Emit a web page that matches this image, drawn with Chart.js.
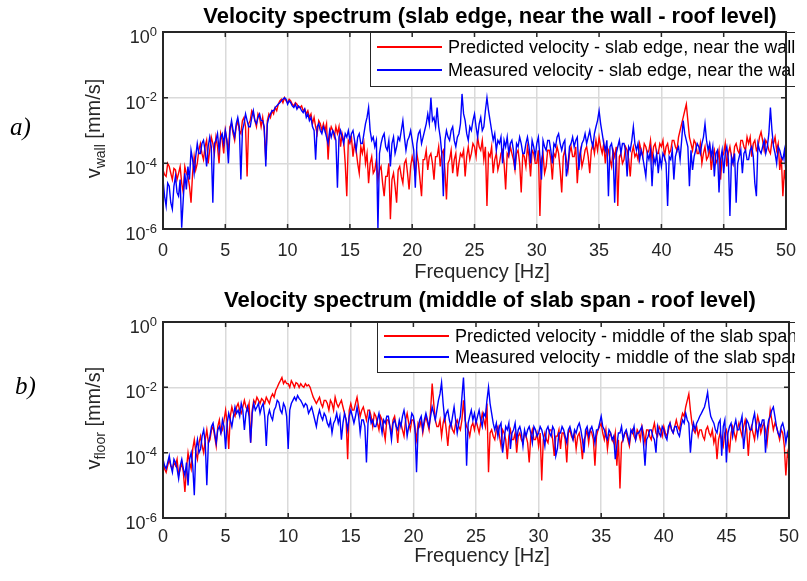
<!DOCTYPE html>
<html>
<head>
<meta charset="utf-8">
<script src="https://cdn.jsdelivr.net/npm/chart.js@4.4.1/dist/chart.umd.min.js"></script>
<style>
  html, body { margin: 0; padding: 0; background: #fff; }
  #wrap { position: relative; width: 807px; height: 581px; }
  canvas { position: absolute; left: 0; }
</style>
</head>
<body>
<div id="wrap">
  <canvas id="wallChart" width="807" height="290" style="top:0"></canvas>
  <canvas id="floorChart" width="807" height="291" style="top:290px"></canvas>
</div>
<script>
// spectra sampled every 0.125 Hz from 0 to 50 Hz (one line = 1 Hz), values in mm/s
const freqStep = 0.125;
const freqMax = 50;
const xTicks = [0, 5, 10, 15, 20, 25, 30, 35, 40, 45, 50];
const yTicks = [1e-6, 1e-4, 1e-2, 1];

const wallPredicted = [
  6.3e-5,4.5e-5,4e-5,1e-4,8e-5,5e-5,3.2e-5,7e-5,
  6.3e-5,3.2e-5,5e-5,8e-5,2.5e-5,1.3e-5,8e-5,5e-5,
  4e-5,2e-5,6.3e-6,5e-5,1.6e-4,6.3e-5,1e-4,2.5e-4,
  4e-4,2e-4,1.3e-4,3.2e-4,5e-4,1e-4,2.5e-4,6.3e-4,
  4e-4,2e-4,6.3e-4,3.2e-4,1e-4,8e-4,5e-4,2e-4,
  1e-3,5e-4,2.5e-4,1.3e-3,1.6e-3,8e-4,5e-4,1.3e-3,
  2e-3,1e-3,8e-4,2e-3,2.5e-3,1.3e-3,4e-5,1.6e-3,
  2e-3,4e-3,3.2e-3,2e-3,1.3e-3,3.2e-3,2.5e-3,1.3e-3,
  2.5e-3,1e-3,1.3e-4,2e-3,3.2e-3,2.5e-3,4e-3,3.2e-3,
  5e-3,4e-3,6.3e-3,8e-3,9e-3,7e-3,1e-2,8e-3,
  7e-3,9e-3,8e-3,6.3e-3,5.6e-3,7e-3,6.3e-3,5e-3,
  5e-3,5.6e-3,4e-3,4.5e-3,3.2e-3,4e-3,2.5e-3,3.2e-3,
  1.6e-3,2.5e-3,1.3e-3,8e-4,2e-3,1.6e-3,1e-3,1.6e-3,
  1e-3,1.6e-3,1.3e-4,8e-4,1.3e-3,1e-3,6.3e-4,1.3e-3,
  8e-4,1.3e-3,3.2e-4,8e-4,5e-4,1e-4,1e-5,5e-4,
  4e-4,6.3e-4,1.6e-4,4e-4,2.5e-4,1e-4,5e-5,3.2e-4,
  2e-4,4e-4,1e-4,2e-4,2.5e-5,1e-4,1.6e-4,5e-5,
  6.3e-5,1.3e-4,3.2e-5,6.3e-5,8e-5,2.5e-5,1e-5,4e-5,
  4e-5,1e-4,2e-6,3.2e-5,5e-5,2e-5,6.3e-6,6.3e-5,
  8e-5,4e-5,2.5e-5,1e-4,1.3e-4,5e-5,1.6e-5,8e-5,
  1.6e-4,1e-4,4e-5,2e-4,1e-4,3.2e-5,1e-5,1.3e-4,
  1.3e-4,2.5e-4,6.3e-5,1.6e-4,2e-4,1e-4,3.2e-5,1.6e-4,
  1.6e-4,3.2e-4,8e-5,2e-4,2.5e-4,6.3e-5,8e-6,1e-4,
  1.3e-4,2.5e-4,5e-5,1.3e-4,2e-4,4e-5,1e-4,2e-4,
  1.6e-4,2.5e-4,4e-5,1.6e-4,3.2e-4,1.3e-4,2e-4,4e-4,
  3.2e-4,1.6e-4,6.3e-4,3.2e-4,2.5e-4,5e-4,1.3e-4,3.2e-4,
  5e-6,2e-4,1.6e-4,3.2e-4,5e-5,1.3e-4,2e-4,6.3e-5,
  1e-4,2e-4,2.5e-4,1e-4,1.6e-5,2e-4,1.6e-4,3.2e-4,
  2e-4,1.3e-4,6.3e-5,2e-4,2.5e-4,1e-4,1.3e-5,2e-4,
  1.6e-4,8e-5,3.2e-4,1.6e-4,4e-5,2.5e-4,2e-4,1e-4,
  1e-4,2.5e-4,2.5e-6,1.3e-4,2e-4,5e-5,8e-5,2.5e-4,
  2.5e-4,1.3e-4,3.2e-5,2e-4,1.6e-4,3.2e-4,2e-4,6.3e-5,
  1.3e-5,1.6e-4,2.5e-4,1.3e-4,6.3e-5,2e-4,3.2e-4,1.6e-4,
  1.6e-4,3.2e-4,2.5e-5,1.3e-4,2.5e-4,8e-5,1.3e-4,2.5e-4,
  3.2e-4,1.6e-4,5e-5,2.5e-4,4e-4,2e-4,5e-4,2.5e-4,
  6.3e-4,3.2e-4,2e-4,4e-4,1e-4,3.2e-4,2.5e-4,1.3e-4,
  8e-5,2.5e-4,1.6e-4,3.2e-4,5e-6,1.6e-4,2e-4,1e-4,
  1.3e-4,3.2e-4,2.5e-4,1.3e-4,4e-5,2e-4,3.2e-4,1.6e-4,
  2e-4,1.3e-4,4e-4,2.5e-4,1.6e-4,4e-4,3.2e-4,2e-4,
  2.5e-4,5e-4,1.3e-4,3.2e-4,4e-4,2e-4,2e-4,4e-4,
  3.2e-4,5e-4,1.6e-4,3.2e-4,4e-4,2e-4,2.5e-4,5e-4,
  5e-4,3.2e-4,2.5e-4,6.3e-4,1e-3,1.6e-3,2.5e-3,4e-3,
  6.3e-3,2e-3,6.3e-4,4e-4,2.5e-4,5e-4,4e-4,2e-4,
  2e-4,4e-4,1e-4,2e-4,3.2e-4,1.3e-4,1.6e-4,3.2e-4,
  6.3e-5,1.6e-4,2.5e-4,1e-4,1.3e-4,2.5e-4,3.2e-5,1.6e-4,
  2e-4,4e-4,8e-5,2e-4,3.2e-4,1.6e-4,1e-4,3.2e-4,
  4e-4,2.5e-4,2e-4,5e-4,5e-4,3.2e-4,2.5e-4,6.3e-4,
  4e-4,6.3e-4,1.6e-4,4e-4,5e-4,2.5e-4,3.2e-4,6.3e-4,
  9e-4,5e-4,2.5e-4,5e-4,4e-4,2.5e-4,2e-4,5e-4,
  4e-4,6.3e-4,2.5e-4,4e-4,6.3e-5,1.6e-4,1e-5,6.3e-5,
  2.5e-5
];

const wallMeasured = [
  3.2e-5,1e-5,5e-6,2.5e-5,2e-5,6.3e-6,4e-6,2e-5,
  4e-5,1.3e-5,1e-5,3.2e-5,1.1e-6,8e-6,5e-5,1.6e-5,
  8e-5,3.2e-5,2.5e-4,1.3e-4,5e-5,1.6e-4,4e-4,2e-4,
  2e-4,4e-4,5e-4,2.5e-4,8e-5,3.2e-4,6.3e-4,3.2e-4,
  6.3e-6,4e-4,5e-4,8e-4,2.5e-4,6.3e-4,8e-4,4e-4,
  1e-3,5e-4,1e-4,1e-3,2e-3,1e-3,6.3e-4,1.6e-3,
  2.5e-3,1.3e-3,3.2e-5,1e-3,1.6e-3,3.2e-3,2e-3,1.3e-3,
  1.3e-3,2.5e-3,4e-3,2e-3,1.6e-3,2.5e-3,3.2e-3,2e-3,
  2e-3,1.3e-3,8e-5,1.6e-3,2.5e-3,3.2e-3,4e-3,4e-3,
  5e-3,5.6e-3,6.3e-3,7e-3,8e-3,9e-3,1e-2,9e-3,
  6.3e-3,8e-3,7e-3,5.6e-3,5e-3,6.3e-3,4.5e-3,5.6e-3,
  5e-3,4e-3,3.5e-3,4.5e-3,2.5e-3,3.2e-3,2e-3,2.5e-3,
  1.3e-3,1e-3,1.3e-4,1.3e-3,1.6e-3,1e-3,8e-4,1.3e-3,
  1e-3,6.3e-4,4e-4,1e-3,6.3e-4,1e-3,8e-4,5e-4,
  1.8e-5,6.3e-4,1e-3,6.3e-4,4e-4,8e-4,6.3e-4,1e-3,
  5e-4,8e-4,1e-3,5e-4,2.5e-4,6.3e-4,8e-4,4e-4,
  4e-4,8e-4,1.6e-3,2.5e-3,5e-3,1e-3,5e-4,6.3e-4,
  3.2e-4,5e-4,1e-6,2e-4,4e-4,6.3e-4,8e-4,3.2e-4,
  2.5e-4,5e-4,8e-5,4e-4,6.3e-4,2e-4,3.2e-4,6.3e-4,
  5e-4,1e-3,2e-3,6.3e-4,2.5e-4,5e-4,6.3e-4,1e-3,
  5e-4,2.5e-4,1.8e-5,4e-4,8e-4,1e-3,4e-4,6.3e-4,
  1e-3,1.6e-3,3.2e-3,1.6e-3,1e-2,2e-3,2.5e-3,1.3e-3,
  5e-3,1.3e-3,6.3e-4,2e-4,1e-5,5e-4,1e-3,6.3e-4,
  5e-4,1e-3,1.3e-3,5e-4,3.2e-4,6.3e-4,8e-4,1.6e-3,
  1.3e-2,3.2e-3,2e-3,8e-4,5e-4,1.3e-3,1e-3,2e-3,
  3.2e-3,1.3e-3,6.3e-4,1.6e-3,2.5e-3,1e-3,1.3e-3,4e-3,
  1e-2,4e-3,2e-3,1e-3,5e-4,8e-4,2.5e-4,5e-4,
  4e-4,6.3e-4,1e-4,5e-4,3.2e-4,6.3e-4,2e-4,4e-4,
  5e-4,2.5e-4,6.3e-5,4e-4,3.2e-4,6.3e-4,4e-4,2e-4,
  2e-4,4e-4,6.3e-4,3.2e-4,1e-4,5e-4,3.2e-4,1.6e-4,
  4e-4,6.3e-4,1.6e-4,3.2e-5,5e-4,3.2e-4,2.5e-4,5e-4,
  5e-4,2.5e-4,1e-4,4e-4,3.2e-4,6.3e-4,8e-4,4e-4,
  2.5e-4,4e-4,5e-4,4e-5,8e-5,3.2e-4,4e-4,6.3e-4,
  3.2e-4,5e-4,6.3e-4,6.3e-5,2e-4,4e-4,5e-4,8e-4,
  4e-4,6.3e-4,1e-3,5e-4,3.2e-4,8e-4,1.3e-3,2e-3,
  4e-3,1.6e-3,8e-4,4e-4,2.5e-4,5e-4,1e-5,3.2e-4,
  4e-4,2e-4,6.3e-6,2e-4,3.2e-4,5e-4,2e-4,4e-4,
  4e-4,2.5e-4,4e-5,3.2e-4,2.5e-4,5e-4,1.3e-3,4e-4,
  2.5e-4,4e-4,1.3e-4,2.5e-4,1.6e-4,8e-5,4e-5,2e-4,
  1.3e-4,2.5e-4,2e-5,1.6e-4,1e-4,2e-4,5e-5,1.6e-4,
  8e-5,2e-4,1.6e-4,1e-4,5e-6,1.6e-4,1.3e-4,2.5e-4,
  3.2e-5,1.6e-4,2.5e-4,3.2e-4,1.3e-4,5e-4,2e-3,8e-4,
  5e-4,3.2e-4,2e-5,2.5e-4,6.3e-5,1.6e-4,2.5e-4,4e-4,
  3.2e-4,2e-4,4e-4,6.3e-4,1.6e-3,5e-4,2.5e-4,4e-4,
  1.6e-4,3.2e-4,4e-5,2e-4,2.5e-4,1.3e-5,1.3e-4,2.5e-4,
  5e-5,2e-4,3.2e-4,1.3e-4,2.5e-6,1.6e-4,1e-4,2e-4,
  6.3e-6,1e-4,1.6e-4,2.5e-4,5e-5,2e-4,2.5e-4,1.3e-4,
  1.3e-4,2.5e-4,3.2e-4,1.6e-4,2.5e-5,1e-5,4e-4,2.5e-4,
  2e-4,3.2e-4,5e-4,2e-4,3.2e-4,8e-4,5e-3,1e-3,
  3.2e-4,2e-4,1e-4,3.2e-4,2.5e-4,1.6e-4,1.3e-4,2.5e-4,
  5e-5
];

const floorPredicted = [
  5e-5,3.2e-5,2.5e-5,4e-5,6.3e-5,4e-5,3.2e-5,5e-5,
  4e-5,6.3e-5,2e-5,3.2e-5,5e-5,2.5e-5,6.3e-6,3.2e-5,
  1e-4,5e-5,3.2e-5,1.3e-4,2.5e-4,1e-4,6.3e-5,2e-4,
  3.2e-4,1.6e-4,1e-4,2.5e-4,5e-4,2e-4,2.5e-4,5e-4,
  6.3e-4,3.2e-4,1.6e-4,6.3e-4,1e-3,4e-4,5e-4,1e-3,
  2e-3,8e-4,1.3e-4,1.3e-3,2.5e-3,1.6e-3,1.3e-3,2.5e-3,
  3.2e-3,2e-3,1.6e-3,2.5e-3,4e-3,2.5e-3,2e-3,3.2e-3,
  2e-4,2e-3,4e-3,3.2e-3,5e-3,4e-3,3.2e-3,4.5e-3,
  4e-3,3.2e-3,5e-3,4e-3,3.2e-3,5e-3,6.3e-3,5e-3,
  8e-3,1e-2,1.3e-2,1.6e-2,2e-2,1.3e-2,1.6e-2,1.3e-2,
  1.3e-2,1e-2,1.6e-2,1.3e-2,1e-2,1.4e-2,1.3e-2,1e-2,
  1.3e-2,1.1e-2,1e-2,1.3e-2,1.1e-2,1.2e-2,1e-2,7e-3,
  5e-3,4e-3,3.2e-3,4e-3,5e-3,3.2e-3,2.5e-3,4e-3,
  4e-3,3.2e-3,2e-3,4e-3,3.2e-3,2e-3,5e-3,3.2e-3,
  2.5e-3,3.2e-3,4e-3,2.5e-3,1.6e-3,1e-3,6.3e-5,2e-3,
  3.2e-3,2e-3,2e-3,3.2e-3,5e-3,2.5e-3,1.3e-3,2e-3,
  2.5e-3,1.6e-3,1e-3,2e-3,2e-3,1.3e-3,6.3e-4,1.6e-3,
  1.3e-3,8e-4,5e-4,1.3e-3,1e-3,5e-4,2.5e-4,1e-3,
  1e-3,6.3e-4,4e-4,1e-3,1.3e-3,6.3e-4,2e-4,8e-4,
  8e-4,5e-4,3.2e-4,1e-3,1.6e-3,8e-4,5e-4,1e-3,
  1e-3,5e-4,2.5e-4,8e-4,6.3e-4,1e-3,4e-4,8e-4,
  1.3e-3,8e-4,5e-4,2e-3,1.3e-2,3.2e-3,1e-3,6.3e-4,
  6.3e-4,1e-3,3.2e-4,8e-4,1.3e-3,5e-4,1.6e-4,6.3e-4,
  8e-4,5e-4,4e-4,8e-4,1e-3,6.3e-4,5e-4,1e-3,
  4e-3,1e-3,6.3e-4,5e-4,3.2e-4,6.3e-4,8e-4,5e-4,
  1e-3,6.3e-4,4e-4,8e-4,1.6e-3,1e-3,6.3e-4,3.2e-3,
  2.5e-5,4e-4,5e-4,3.2e-4,2.5e-4,5e-4,6.3e-4,3.2e-4,
  1.6e-4,5e-4,4e-4,2.5e-4,6.3e-5,3.2e-4,5e-4,2.5e-4,
  2.5e-4,4e-4,1e-4,3.2e-4,4e-4,2.5e-4,2e-4,4e-4,
  3.2e-4,2e-4,5e-5,3.2e-4,5e-4,2.5e-4,2.5e-4,4e-4,
  1.6e-4,4e-4,1.4e-5,2.5e-4,4e-4,2.5e-4,2e-4,5e-4,
  5e-4,2.5e-4,8e-5,3.2e-4,3.2e-4,5e-4,1.3e-4,4e-4,
  4e-4,2.5e-4,5e-5,4e-4,5e-4,3.2e-4,2.5e-4,4e-4,
  1.3e-4,3.2e-4,4e-4,2e-4,6.3e-5,2.5e-4,3.2e-4,5e-4,
  2e-4,5e-4,4e-4,2.5e-4,4e-5,3.2e-4,5e-4,6.3e-4,
  8e-4,4e-4,2.5e-4,5e-4,1.3e-4,3.2e-4,4e-4,2.5e-4,
  2e-4,4e-4,4e-5,2.5e-4,8e-6,2e-4,2.5e-4,4e-4,
  4e-4,2.5e-4,1.6e-4,4e-4,5e-4,3.2e-4,2.5e-4,5e-4,
  4e-4,2.5e-4,6.3e-4,4e-4,2e-4,5e-4,5e-4,3.2e-4,
  2.5e-4,5e-4,8e-4,4e-4,3.2e-4,6.3e-4,5e-4,3.2e-4,
  6.3e-4,4e-4,3.2e-4,5e-4,8e-4,5e-4,4e-4,6.3e-4,
  1e-3,6.3e-4,5e-4,1e-3,1.6e-3,1.3e-3,2.5e-3,4e-3,
  6.3e-3,2e-3,8e-4,5e-4,4e-4,6.3e-4,3.2e-4,5e-4,
  5e-4,3.2e-4,2.5e-4,5e-4,6.3e-4,4e-4,3.2e-4,5e-4,
  2e-4,3.2e-4,6.3e-5,2.5e-4,4e-4,2.5e-4,1.6e-4,4e-4,
  5e-4,2.5e-4,1e-4,4e-4,6.3e-4,4e-4,2.5e-4,5e-4,
  8e-4,5e-4,3.2e-4,6.3e-4,1e-3,5e-4,8e-5,4e-4,
  6.3e-4,4e-4,2.5e-4,6.3e-4,1.3e-3,8e-4,4e-4,6.3e-4,
  8e-4,5e-4,2e-4,6.3e-4,2e-3,1e-3,5e-4,8e-4,
  6.3e-4,4e-4,2.5e-4,5e-4,4e-4,1.6e-4,2e-5,1e-4,
  6.3e-5
];

const floorMeasured = [
  6.3e-5,4e-5,3.2e-5,5e-5,8e-5,4e-5,2.5e-5,6.3e-5,
  5e-5,3.2e-5,1.6e-5,4e-5,6.3e-5,3.2e-5,2e-5,5e-5,
  1e-5,6.3e-5,1e-4,4e-5,5e-6,1.3e-4,2.5e-4,1e-4,
  1.3e-4,3.2e-4,5e-4,2e-4,1e-5,2e-4,3.2e-4,6.3e-4,
  8e-4,4e-4,2e-4,5e-4,6.3e-4,4e-4,1e-3,6.3e-4,
  1.3e-4,8e-4,1.6e-3,1e-3,6.3e-4,1.3e-3,2.5e-3,1.6e-3,
  2e-3,1.3e-3,3.2e-3,2e-3,5e-4,1.6e-3,2.5e-3,1.3e-3,
  2e-4,1.6e-3,3.2e-3,2e-3,2.5e-3,3.2e-3,1.6e-3,2.5e-3,
  3.2e-3,1.3e-3,1.6e-4,1.3e-3,2e-3,1.3e-3,1e-3,2e-3,
  2.5e-3,4e-3,3.5e-3,2e-3,1.6e-3,3.2e-3,2.5e-3,1.3e-3,
  1.3e-4,2e-3,3.2e-3,4e-3,5e-3,4e-3,5.6e-3,4.5e-3,
  4e-3,3.2e-3,2.5e-3,3.2e-3,2.8e-3,1.6e-3,2e-3,2.5e-3,
  1.6e-3,1e-3,6.3e-4,1.3e-3,2e-3,1.3e-3,1e-3,1.6e-3,
  1.3e-3,8e-4,6.3e-4,1e-3,4e-4,8e-4,1e-3,1.6e-3,
  8e-4,1.3e-3,2.5e-4,8e-4,1.6e-3,1e-3,5e-4,1.3e-3,
  2e-3,1.3e-3,8e-4,1.3e-3,2.5e-3,1.3e-3,4e-4,1e-3,
  1e-3,6.3e-4,5e-5,8e-4,1.6e-3,8e-4,1e-3,6.3e-4,
  6.3e-4,1e-3,1.6e-3,8e-4,4e-4,1e-3,8e-4,1.3e-3,
  1.3e-3,6.3e-4,2.5e-4,8e-4,1e-3,6.3e-4,5e-4,1e-3,
  6.3e-4,1.3e-3,2e-3,1e-3,3.2e-4,6.3e-4,8e-4,1.6e-3,
  1.3e-3,6.3e-4,2.5e-5,5e-4,1e-3,1.3e-3,5e-4,1e-3,
  1.6e-3,1e-3,6.3e-4,1.3e-3,2.5e-3,1.6e-3,1e-3,2e-3,
  4e-3,6.3e-3,1.4e-2,3.2e-3,1e-3,1.6e-3,2e-3,1e-3,
  6.3e-4,1.3e-3,2.5e-3,1e-3,4e-4,8e-4,1.3e-3,5e-3,
  2e-2,2e-3,4e-5,8e-4,1.3e-3,2e-3,1e-3,1.6e-3,
  8e-4,1.3e-3,2e-3,1e-3,6.3e-4,1.6e-3,1.3e-3,4e-3,
  1e-2,3.2e-3,1.6e-3,8e-4,5e-4,8e-4,3.2e-4,6.3e-4,
  8e-4,1e-4,2.5e-4,6.3e-4,5e-4,8e-4,1.3e-4,4e-4,
  5e-4,8e-4,2.5e-4,5e-4,6.3e-4,4e-4,1.6e-4,5e-4,
  3.2e-4,5e-4,6.3e-4,4e-4,2e-4,6.3e-4,5e-4,3.2e-4,
  4e-4,6.3e-4,5e-4,3.2e-4,1.6e-4,5e-4,6.3e-4,4e-4,
  3.2e-4,6.3e-4,5e-4,8e-5,1.3e-4,4e-4,4e-4,6.3e-4,
  5e-4,3.2e-4,2e-4,5e-4,6.3e-4,4e-4,2.5e-4,5e-4,
  4e-4,6.3e-4,8e-4,5e-4,2.5e-4,1e-4,5e-4,6.3e-4,
  3.2e-4,5e-4,6.3e-4,4e-4,2e-4,5e-4,5e-4,8e-4,
  1.3e-3,6.3e-4,5e-4,3.2e-4,2.5e-4,5e-4,4e-4,2.5e-4,
  3.2e-4,6.3e-5,1.6e-4,4e-4,4e-4,6.3e-4,2.5e-4,4e-4,
  5e-4,3.2e-4,2e-4,5e-4,4e-4,6.3e-4,2.5e-4,4e-4,
  4e-4,5e-4,6.3e-4,2e-4,4e-5,2.5e-4,3.2e-4,5e-4,
  5e-4,3.2e-4,2.5e-4,1e-4,6.3e-4,4e-4,3.2e-4,6.3e-4,
  5e-4,3.2e-4,2.5e-4,6.3e-4,8e-4,5e-4,4e-4,6.3e-4,
  6.3e-4,4e-4,3.2e-4,6.3e-4,1e-3,8e-4,1.6e-3,1e-3,
  8e-4,1e-4,4e-4,8e-4,5e-4,8e-4,1e-3,1.3e-3,
  1.6e-3,2e-3,2.5e-3,4e-3,7e-3,2.5e-3,1.3e-3,1e-3,
  8e-4,5e-4,4e-4,8e-4,1e-3,8e-5,6.3e-4,1e-3,
  5e-5,4e-4,6.3e-4,8e-4,3.2e-4,6.3e-4,1e-3,5e-4,
  5e-4,8e-4,1.3e-3,1.3e-4,4e-4,1e-3,8e-4,5e-4,
  5e-4,1e-3,1.6e-3,6.3e-4,3.2e-4,8e-4,6.3e-4,1e-3,
  1e-3,1e-4,5e-4,1e-3,1.3e-3,2e-3,2.5e-3,1.3e-3,
  6.3e-4,4e-4,3.2e-4,6.3e-4,8e-4,5e-4,2e-4,4e-4,
  2.5e-4
];

const freq = Array.from({ length: Math.round(freqMax / freqStep) + 1 }, (_, i) => i * freqStep);

const FONT = "'Liberation Sans', Arial, Helvetica, sans-serif";
const INK = '#262626';

function seg(ctx, x0, y0, x1, y1) {
  ctx.moveTo(x0, y0);
  ctx.lineTo(x1, y1);
}

// matlab-like decorations: boxed axes, inward ticks, 10^n labels, legend, titles
const matlabDecor = {
  id: 'matlabDecor',
  afterDraw(chart, args, o) {
    const ctx = chart.ctx;
    const a = chart.chartArea;
    const xs = chart.scales.x, ys = chart.scales.y;
    ctx.save();

    // legend box (inside the axes, top right)
    const lg = o.legend;
    ctx.save();
    ctx.beginPath();
    ctx.rect(0, 0, lg.clip, chart.height);
    ctx.clip();
    ctx.fillStyle = '#fff';
    ctx.fillRect(lg.x, lg.y, lg.w, lg.h);
    ctx.strokeStyle = INK;
    ctx.lineWidth = 1;
    ctx.strokeRect(lg.x + 0.5, lg.y + 0.5, lg.w, lg.h);
    chart.data.datasets.forEach((ds, i) => {
      const ry = lg.y + lg.rows[i];
      ctx.strokeStyle = ds.borderColor;
      ctx.lineWidth = 2;
      ctx.beginPath();
      seg(ctx, lg.x + 7, ry, lg.x + 72, ry);
      ctx.stroke();
      ctx.fillStyle = '#000';
      ctx.font = `18px ${FONT}`;
      ctx.textAlign = 'left';
      ctx.textBaseline = 'middle';
      ctx.fillText(ds.label, lg.x + 78, ry + 1);
    });
    ctx.restore();

    // box and inward ticks
    ctx.strokeStyle = INK;
    ctx.lineWidth = 1.5;
    ctx.beginPath();
    xTicks.forEach(v => {
      const px = xs.getPixelForValue(v);
      seg(ctx, px, a.bottom, px, a.bottom - 5);
      seg(ctx, px, a.top, px, a.top + 5);
    });
    yTicks.forEach(v => {
      const py = ys.getPixelForValue(v);
      seg(ctx, a.left, py, a.left + 5, py);
      seg(ctx, a.right, py, a.right - 5, py);
    });
    ctx.stroke();
    ctx.lineWidth = 2;
    ctx.strokeRect(a.left, a.top, a.right - a.left, a.bottom - a.top);

    // y tick labels as 10 with superscript exponent
    ctx.fillStyle = INK;
    ctx.textAlign = 'right';
    ctx.textBaseline = 'middle';
    yTicks.forEach(v => {
      const py = ys.getPixelForValue(v);
      const exp = String(Math.round(Math.log10(v)));
      ctx.font = `13px ${FONT}`;
      const w = ctx.measureText(exp).width;
      ctx.fillText(exp, a.left - 6, py);
      ctx.font = `18px ${FONT}`;
      ctx.fillText('10', a.left - 6 - w, py + 6);
    });

    // y axis title with subscript
    ctx.save();
    ctx.translate(o.yTitleX, (a.top + a.bottom) / 2 - 2);
    ctx.rotate(-Math.PI / 2);
    ctx.textAlign = 'left';
    ctx.textBaseline = 'middle';
    const [base, sub, rest] = o.yTitle;
    ctx.font = `20px ${FONT}`;
    const w1 = ctx.measureText(base).width;
    const w3 = ctx.measureText(rest).width;
    ctx.font = `14px ${FONT}`;
    const w2 = ctx.measureText(sub).width;
    let sx = -(w1 + w2 + w3) / 2;
    ctx.font = `20px ${FONT}`;
    ctx.fillText(base, sx, 0);
    sx += w1;
    ctx.font = `14px ${FONT}`;
    ctx.fillText(sub, sx, 7);
    sx += w2;
    ctx.font = `20px ${FONT}`;
    ctx.fillText(rest, sx, 0);
    ctx.restore();

    // x axis title
    ctx.textAlign = 'center';
    ctx.font = `20px ${FONT}`;
    ctx.fillText(o.xTitle, 482, o.xTitleY);

    // plot title
    ctx.fillStyle = '#000';
    ctx.font = `bold 22px ${FONT}`;
    ctx.fillText(o.title, 490, o.titleY);

    // panel tag a) / b)
    ctx.textAlign = 'left';
    ctx.font = `italic 25px 'Liberation Serif', 'Times New Roman', serif`;
    ctx.fillText(o.tag, o.tagX, o.tagY);

    ctx.restore();
  }
};

function makeChart(id, cfg) {
  return new Chart(document.getElementById(id), {
    type: 'line',
    data: {
      datasets: [
        {
          label: cfg.predLabel,
          data: freq.map((f, i) => ({ x: f, y: cfg.pred[i] })),
          borderColor: '#ff0000',
          borderWidth: 1.4,
          pointRadius: 0,
          tension: 0,
          order: 1
        },
        {
          label: cfg.measLabel,
          data: freq.map((f, i) => ({ x: f, y: cfg.meas[i] })),
          borderColor: '#0000ff',
          borderWidth: 1.4,
          pointRadius: 0,
          tension: 0,
          order: 0
        }
      ]
    },
    options: {
      responsive: false,
      animation: false,
      devicePixelRatio: 1,
      layout: { padding: { left: 0, right: 15, top: 32, bottom: 0 } },
      plugins: {
        legend: { display: false },
        tooltip: { enabled: false },
        matlabDecor: cfg.decor
      },
      scales: {
        x: {
          type: 'linear',
          min: 0,
          max: freqMax,
          afterBuildTicks: s => { s.ticks = xTicks.map(v => ({ value: v })); },
          afterFit: s => { s.height = s.chart.height - cfg.plotBottom; },
          ticks: {
            autoSkip: false,
            maxRotation: 0,
            padding: cfg.tickPad,
            color: INK,
            font: { family: FONT, size: 18 }
          },
          grid: { color: '#dadada', lineWidth: 1.5, drawTicks: false },
          border: { display: false }
        },
        y: {
          type: 'logarithmic',
          min: 1e-6,
          max: 1,
          afterBuildTicks: s => { s.ticks = yTicks.map(v => ({ value: v })); },
          afterFit: s => { s.width = 163; },
          ticks: { display: false },
          grid: { color: '#dadada', lineWidth: 1.5, drawTicks: false },
          border: { display: false }
        }
      }
    },
    plugins: [matlabDecor]
  });
}

makeChart('wallChart', {
  pred: wallPredicted,
  meas: wallMeasured,
  predLabel: 'Predicted velocity - slab edge, near the wall',
  measLabel: 'Measured velocity - slab edge, near the wall',
  plotBottom: 229,
  tickPad: 11,
  decor: {
    title: 'Velocity spectrum (slab edge, near the wall - roof level)',
    titleY: 17,
    xTitle: 'Frequency [Hz]',
    xTitleY: 272,
    yTitle: ['v', 'wall', ' [mm/s]'],
    yTitleX: 94,
    tag: 'a)',
    tagX: 10,
    tagY: 128,
    legend: { x: 370, y: 32, w: 440, h: 54, rows: [15, 38], clip: 795 }
  }
});

makeChart('floorChart', {
  pred: floorPredicted,
  meas: floorMeasured,
  predLabel: 'Predicted velocity - middle of the slab span',
  measLabel: 'Measured velocity - middle of the slab span',
  plotBottom: 228,
  tickPad: 8,
  decor: {
    title: 'Velocity spectrum (middle of slab span - roof level)',
    titleY: 11,
    xTitle: 'Frequency [Hz]',
    xTitleY: 266,
    yTitle: ['v', 'floor', ' [mm/s]'],
    yTitleX: 94,
    tag: 'b)',
    tagX: 15,
    tagY: 97,
    legend: { x: 377, y: 32, w: 440, h: 50, rows: [14, 35], clip: 795 }
  }
});
</script>
</body>
</html>
